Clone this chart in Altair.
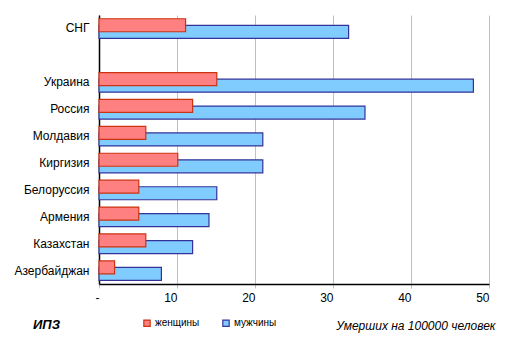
import altair as alt
import pandas as pd

countries = ["СНГ", " ", "Украина", "Россия", "Молдавия", "Киргизия",
             "Белоруссия", "Армения", "Казахстан", "Азербайджан"]
data_countries = ["СНГ", "Украина", "Россия", "Молдавия", "Киргизия",
                  "Белоруссия", "Армения", "Казахстан", "Азербайджан"]
women = [11.1, 15.1, 12.0, 6.0, 10.1, 5.1, 5.1, 6.0, 2.0]
men = [32.0, 48.0, 34.1, 21.0, 21.0, 15.1, 14.1, 12.0, 8.0]
sexes = ["женщины", "мужчины"]
x_ticks = [0, 10, 20, 30, 40, 50]

df_w = pd.DataFrame({"country": data_countries, "value": women, "sex": sexes[0]})
df_m = pd.DataFrame({"country": data_countries, "value": men, "sex": sexes[1]})

fill_scale = alt.Scale(domain=sexes, range=["#FF8080", "#80CCFF"])
stroke_scale = alt.Scale(domain=sexes, range=["#CC3311", "#333399"])

legend = alt.Legend(
    title=None, orient="none", direction="horizontal", legendX=43, legendY=303,
    symbolType="square", symbolSize=40, symbolStrokeWidth=1.2,
    labelFontSize=10, labelFont="Liberation Sans", labelColor="black",
    labelOffset=3, columnPadding=20, padding=0,
)

x_enc = alt.X(
    "value:Q",
    scale=alt.Scale(domain=[0, 50], nice=False, zero=True),
    axis=alt.Axis(
        values=x_ticks, labelExpr="datum.value == 0 ? '-\u00a0\u00a0' : datum.label",
        labelAlign="right",
        grid=True, gridColor="#c0c0c0", domainColor="black", domainWidth=1.5,
        tickColor="#c0c0c0", tickSize=4, labelPadding=4,
        labelFontSize=12, labelFont="Liberation Sans", labelColor="black",
        title="Умерших на 100000 человек", titleFont="Liberation Sans",
        titleFontSize=12, titleFontStyle="italic", titleFontWeight="normal",
        titleAnchor="end", titleAlign="right", titleBaseline="middle",
        titleX=396, titleY=41, titleColor="black",
    ),
)
y_enc = alt.Y(
    "country:N",
    scale=alt.Scale(domain=countries, paddingInner=0, paddingOuter=0),
    axis=alt.Axis(
        title=None, ticks=False, domainColor="black", domainWidth=1.5,
        labelPadding=10, labelFontSize=12, labelFont="Liberation Sans",
        labelColor="black", grid=False,
    ),
)

men_bars = alt.Chart(df_m).mark_bar(height=13, yOffset=3.4, strokeWidth=1.2).encode(
    x=x_enc, y=y_enc,
    fill=alt.Fill("sex:N", scale=fill_scale, legend=legend),
    stroke=alt.Stroke("sex:N", scale=stroke_scale, legend=legend),
)
women_bars = alt.Chart(df_w).mark_bar(height=13, yOffset=-3.2, strokeWidth=1.2).encode(
    x=x_enc, y=y_enc,
    fill=alt.Fill("sex:N", scale=fill_scale, legend=legend),
    stroke=alt.Stroke("sex:N", scale=stroke_scale, legend=legend),
)

label = alt.Chart(pd.DataFrame({"t": ["ИПЗ"]})).mark_text(
    align="left", baseline="middle", fontSize=13, fontStyle="italic",
    fontWeight="bold", font="Liberation Sans", color="black",
).encode(x=alt.value(-66), y=alt.value(310), text="t:N")

chart = alt.layer(men_bars, women_bars, label).properties(
    width=390, height=269,
    autosize=alt.AutoSizeParams(type="none"),
    padding={"left": 99, "top": 15, "right": 30, "bottom": 62},
    background="white",
).configure_view(stroke=None)

chart.save("out.html", embed_options={"renderer": "svg", "actions": False})
